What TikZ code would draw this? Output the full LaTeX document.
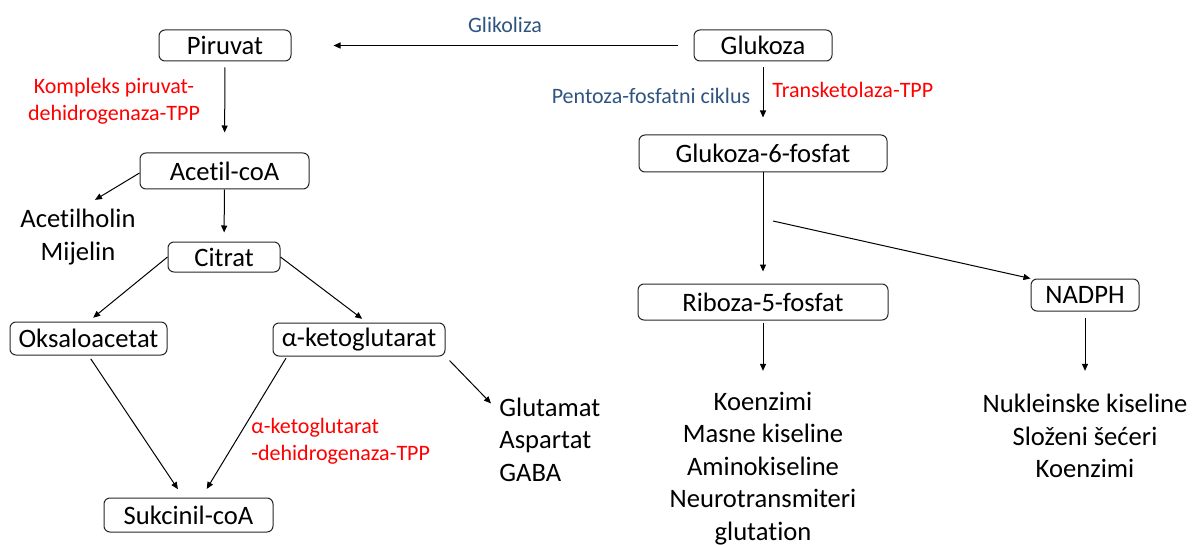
\documentclass[tikz,border=0pt]{standalone}
\usepackage{fontspec}
\setmainfont{Carlito}[Ligatures=NoCommon]
\usetikzlibrary{arrows.meta}
\definecolor{routeblue}{RGB}{47,84,128}
\definecolor{enzred}{RGB}{255,0,0}

\begin{document}
\begin{tikzpicture}[x=0.5pt,y=-0.5pt]
	\tikzstyle{box} = [rectangle, rounded corners=3pt, draw=black!85, line width=0.5pt, inner sep=0pt, text centered, font=\fontsize{13.3}{16}\selectfont]
	\tikzstyle{list} = [inner sep=0pt, font=\fontsize{13.3}{16.2}\selectfont]
	\tikzstyle{enzyme} = [inner sep=0pt, text=enzred, font=\fontsize{11}{13.5}\selectfont]
	\tikzstyle{route} = [inner sep=0pt, text=routeblue, font=\fontsize{11}{13.5}\selectfont]
	\tikzstyle{arrow} = [line width=0.5pt, -{Triangle[length=3.5pt,width=3pt]}]

	\useasboundingbox (0,0) rectangle (1192,545);

	% boxes
	\node (piruvat) at (225,45.5) [box, minimum width=66pt, minimum height=15.5pt] {Piruvat};
	\node (glukoza) at (763,45.5) [box, minimum width=69pt, minimum height=15.5pt] {Glukoza};
	\node (acetil) at (224.5,171) [box, minimum width=84.5pt, minimum height=18pt] {Acetil-coA};
	\node (citrat) at (224,257) [box, minimum width=56pt, minimum height=15pt] {Citrat};
	\node (oksa) at (88.5,338.5) [box, minimum width=78.5pt, minimum height=16.5pt] {Oksaloacetat};
	\node (akg) at (359,339.5) [box, minimum width=86pt, minimum height=16.5pt] {α-ketoglutarat};
	\node (sukcinil) at (188.5,515) [box, minimum width=84.5pt, minimum height=17pt] {Sukcinil-coA};
	\node (g6p) at (763,153.5) [box, minimum width=124pt, minimum height=18.5pt] {Glukoza-6-fosfat};
	\node (riboza) at (763,302) [box, minimum width=125pt, minimum height=18pt] {Riboza-5-fosfat};
	\node (nadph) at (1085,295) [box, minimum width=54pt, minimum height=16pt] {NADPH};

	% lists
	\node (acetilholin) at (78,237) [list, align=center] {Acetilholin\\Mijelin};
	\node (glutamat) at (499,439.5) [list, anchor=west, align=left] {Glutamat\\Aspartat\\GABA};
	\node (ribozalist) at (763,468.5) [list, align=center] {Koenzimi\\Masne kiseline\\Aminokiseline\\Neurotransmiteri\\glutation};
	\node (nadphlist) at (1085,436) [list, align=center] {Nukleinske kiseline\\Složeni šećeri\\Koenzimi};

	% labels
	\node (glikoliza) at (505,25) [route] {Glikoliza};
	\node (pentoza) at (651,96) [route] {Pentoza-fosfatni ciklus};
	\node (transket) at (772,90) [enzyme, anchor=west] {Transketolaza-TPP};
	\node (pdh) at (114,101) [enzyme, align=center] {Kompleks piruvat-\\dehidrogenaza-TPP};
	\node (akgdh) at (251,441.5) [enzyme, anchor=west, align=left] {α-ketoglutarat\\-dehidrogenaza-TPP};

	\coordinate (split) at (773,221);

	\draw [arrow, shorten <=8pt, shorten >=21pt] (glukoza) -- (piruvat);
	\draw [arrow, shorten <=3pt, shorten >=10pt] (piruvat) -- (acetil);
	\draw [arrow] ([yshift=-1pt]acetil.west) -- ([xshift=8.5pt,yshift=4.5pt]acetilholin.north);
	\draw [arrow, shorten >=4.5pt] (acetil) -- (citrat);
	\draw [arrow, shorten >=3pt] (citrat.west) -- (oksa.north);
	\draw [arrow, shorten >=3pt] (citrat.east) -- ([xshift=4pt]akg.north);
	\draw [arrow, shorten <=2pt, shorten >=5pt] (oksa.south) -- ([xshift=-2.5pt]sukcinil.north);
	\draw [arrow, shorten <=1pt, shorten >=5pt] ([xshift=-36pt]akg.south) -- ([xshift=6.5pt]sukcinil.north);
	\draw [arrow] ([xshift=2pt,yshift=-2pt]akg.south east) -- ([xshift=-4pt,yshift=-3pt]glutamat.north west);

	\draw [arrow, shorten <=3pt, shorten >=8.5pt] (glukoza) -- (g6p);
	\draw [arrow, shorten >=6pt] (g6p) -- (riboza);
	\draw [arrow] (split) -- (nadph.north west);
	\draw [arrow, shorten <=1pt, shorten >=10.5pt] (riboza) -- (ribozalist);
	\draw [arrow, shorten <=3pt, shorten >=11.5pt] (nadph) -- (nadphlist);

\end{tikzpicture}
\end{document}
